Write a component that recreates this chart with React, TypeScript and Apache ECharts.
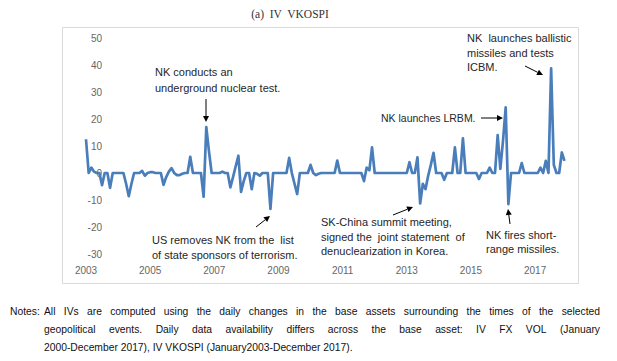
import React, { useEffect, useRef } from "react";
import * as echarts from "echarts";

// Monthly IV VKOSPI values (Jan–Dec for each year)
const v2003 = [12.5, 0, 2, 0.5, 0, 0, -4.5, 0, 0, -5.5, 0, 0];
const v2004 = [0, 0, 0, -4, -8.6, -4, 0, 0, 0, 0.8, -1, 0];
const v2005 = [0.3, 0.3, 0, 0, 0, -4.4, -1.5, 0.5, 1.8, 0, -0.8, -0.8];
const v2006 = [-0.3, 0, 0, 6, 0, 0, 0, 0, -8.8, 17, 8, 0];
const v2007 = [0, 0, 0, 0.5, 0, 0, -5.3, -1.5, 2.5, 6.4, -7, -3];
const v2008 = [0, 0, -6, 0, -0.3, -1, 0, 0, 0, -13.3, 0, 0];
const v2009 = [0, 0, 0, 0, 5.6, 0, -4, -7.8, 0, 0, 0, 0];
const v2010 = [3, 0, -0.8, -0.3, 0, 0, 0, 0, 0, 0, 4.6, 0];
const v2011 = [0, 0, 0, 0, 0, 0, 0, 0, -3, 2, 1, 9.5];
const v2012 = [0, 0, 0, 0, 0, 0, 0, 0, 0, 0, 0, 0];
const v2013 = [0, 4, 0, 0, 5.8, -11.3, -4, -6, -1, 3, 7.5, 0];
const v2014 = [0, 0, -2.5, 0, 0, 0, 9.5, 0, 0, 12.8, 0, 0];
const v2015 = [0, 0, 0, -2.2, 0, 0, 0, 2, 0, 0, 14, 1.5];
const v2016 = [12, 24.3, -11.5, 0, 0, 0, 0, 3.7, 0, 0, 0, 0];
const v2017 = [0, 0, 2, 0, 4.5, 0, 38.8, 3, 0, 0, 7.6, 4.5];

const years = [2003, 2004, 2005, 2006, 2007, 2008, 2009, 2010, 2011, 2012, 2013, 2014, 2015, 2016, 2017];
const months = ["01", "02", "03", "04", "05", "06", "07", "08", "09", "10", "11", "12"];
const tickLabels = ["2003", "2005", "2007", "2009", "2011", "2013", "2015", "2017"];

const ivVkospi = [
  ...v2003, ...v2004, ...v2005, ...v2006, ...v2007, ...v2008, ...v2009, ...v2010,
  ...v2011, ...v2012, ...v2013, ...v2014, ...v2015, ...v2016, ...v2017,
];

const titleText = "(a)  IV  VKOSPI";
const notesLines = [
  "All IVs are computed using the daily changes in the base assets surrounding the times of the selected",
  "geopolitical events. Daily data availability differs across the base asset: IV FX VOL (January",
  "2000-December 2017), IV VKOSPI (January2003-December 2017).",
];

const ANN_FONT = "Liberation Sans";
const NOTE_FONT = "Liberation Sans";

function arrow(x1: number, y1: number, x2: number, y2: number) {
  const a = Math.atan2(y2 - y1, x2 - x1);
  const L = 6, W = 3;
  const bx = x2 - L * Math.cos(a), by = y2 - L * Math.sin(a);
  const nx = -Math.sin(a), ny = Math.cos(a);
  return [
    { type: "line", shape: { x1, y1, x2: bx, y2: by }, style: { stroke: "#000", lineWidth: 1 } },
    {
      type: "polygon",
      shape: { points: [[x2, y2], [bx + W * nx, by + W * ny], [bx - W * nx, by - W * ny]] },
      style: { fill: "#000" },
    },
  ];
}

function annText(text: string, x: number, y: number, size = 11) {
  return {
    type: "text",
    x,
    y,
    style: { text, fill: "#262626", font: `${size}px "${ANN_FONT}"`, textVerticalAlign: "middle", textAlign: "left" },
  };
}

export default function App() {
  const ref = useRef<HTMLDivElement>(null);
  useEffect(() => {
    if (!ref.current) return;
    const chart = echarts.init(ref.current, null, { renderer: "svg" });
    const categories = years.flatMap((y) => months.map((m) => `${y}-${m}`));

    // notes, justified
    const canvas = document.createElement("canvas");
    const ctx = canvas.getContext("2d")!;
    const noteFont = `10.3px "${NOTE_FONT}"`;
    ctx.font = noteFont;
    const noteEls: any[] = [];
    const left = 44, right = 600;
    const lineY = [311, 329, 347];
    notesLines.forEach((line, li) => {
      const words = line.split(" ");
      const widths = words.map((w) => ctx.measureText(w).width);
      const total = widths.reduce((s, w) => s + w, 0);
      const justify = li < notesLines.length - 1;
      const gap = justify ? (right - left - total) / (words.length - 1) : ctx.measureText(" ").width;
      let x = left;
      words.forEach((w, i) => {
        noteEls.push({
          type: "text",
          x,
          y: lineY[li],
          style: { text: w, fill: "#111", font: noteFont, textVerticalAlign: "middle" },
        });
        x += widths[i] + gap;
      });
    });
    noteEls.push({
      type: "text",
      x: 10,
      y: lineY[0],
      style: { text: "Notes:", fill: "#111", font: noteFont, textVerticalAlign: "middle" },
    });

    const option: any = {
      animation: false,
      grid: { left: 86, right: 52.5, top: 38, bottom: 107, containLabel: false },
      xAxis: {
        type: "category",
        data: categories,
        boundaryGap: false,
        axisLine: { show: false },
        axisTick: { show: false },
        splitLine: { show: false },
        axisLabel: {
          interval: (index: number) => index % 24 === 0,
          formatter: (v: string) => {
            const y = v.slice(0, 4);
            return tickLabels.includes(y) ? y : "";
          },
          color: "#666",
          fontSize: 10,
          fontFamily: ANN_FONT,
          margin: 11,
          hideOverlap: false,
        },
      },
      yAxis: {
        type: "value",
        min: -30,
        max: 50,
        interval: 10,
        axisLine: { show: false },
        axisTick: { show: false },
        splitLine: { show: false },
        axisLabel: { color: "#666", fontSize: 10, fontFamily: ANN_FONT, margin: -16, align: "right" },
      },
      series: [
        {
          type: "line",
          data: ivVkospi,
          symbol: "none",
          lineStyle: { color: "#4a7ebb", width: 2.7, join: "round" },
        },
      ],
      graphic: [
        {
          type: "rect",
          shape: { x: 62.5, y: 27.5, width: 516, height: 256 },
          style: { fill: "none", stroke: "#d9d9d9", lineWidth: 1 },
        },
        {
          type: "text",
          x: 290,
          y: 14,
          style: { text: titleText, fill: "#333", font: '11.5px "Liberation Serif"', textAlign: "center", textVerticalAlign: "middle" },
        },
        annText("NK conducts an", 155, 72),
        annText("underground nuclear test.", 155, 88),
        ...arrow(206, 99, 206, 122),
        annText("US removes NK from the  list", 152, 240),
        annText("of state sponsors of terrorism.", 152, 255),
        ...arrow(256, 227, 270, 216),
        annText("SK-China summit meeting,", 321, 222),
        annText("signed the  joint statement  of", 321, 237),
        annText("denuclearization in Korea.", 321, 251),
        ...arrow(393, 215, 413, 207),
        annText("NK launches LRBM.", 381, 118, 10.5),
        ...arrow(481, 118, 503, 118),
        annText("NK  launches ballistic", 467, 38),
        annText("missiles and tests", 467, 53),
        annText("ICBM.", 467, 67),
        ...arrow(525, 66, 543, 75),
        annText("NK fires short-", 486, 235),
        annText("range missiles.", 486, 249),
        ...arrow(510, 224, 508, 209),
        ...noteEls,
      ],
    };
    chart.setOption(option);
    return () => chart.dispose();
  }, []);
  return <div ref={ref} style={{ position: "absolute", left: 0, top: 0, width: 617, height: 361 }} />;
}
